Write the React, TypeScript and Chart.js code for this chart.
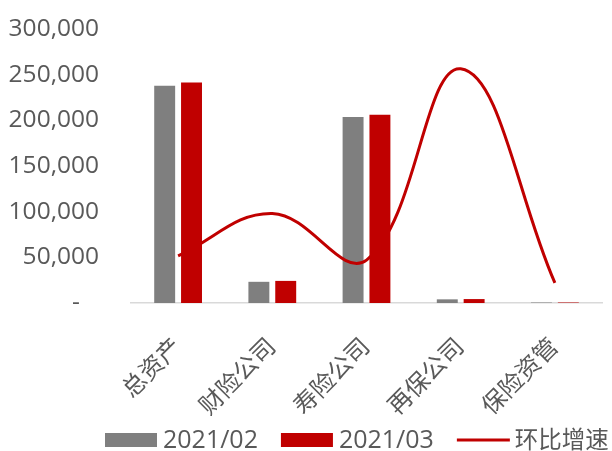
import React, { useEffect, useRef } from "react";
import { Chart, registerables } from "chart.js";

Chart.register(...registerables);

const categories = ["总资产", "财险公司", "寿险公司", "再保公司", "保险资管"];
const series0221 = [238000, 23200, 203600, 4000, 500];
const series0321 = [241300, 24200, 206200, 4300, 520];
const growthPct = [1.03, 1.96, 0.94, 5.13, 0.44];
const yTicks = [0, 50000, 100000, 150000, 200000, 250000, 300000];

const FONT = '"Open Sans", "Noto Sans CJK SC", sans-serif';
const TEXT = "#595959";

const legendPlugin = {
  id: "customLegend",
  afterDraw(chart: any) {
    const ctx = chart.ctx;
    ctx.save();
    ctx.textBaseline = "middle";
    ctx.textAlign = "left";
    const cy = 440;
    let x = 105;
    chart.data.datasets.forEach((ds: any) => {
      if (ds.type === "line") {
        ctx.strokeStyle = ds.borderColor;
        ctx.lineWidth = 3;
        ctx.beginPath();
        ctx.moveTo(x, cy);
        ctx.lineTo(x + 53, cy);
        ctx.stroke();
        x += 58;
        ctx.font = `23.5px ${FONT}`;
      } else {
        ctx.fillStyle = ds.backgroundColor;
        ctx.fillRect(x, cy - 7, 52, 14);
        x += 58;
        ctx.font = `25px ${FONT}`;
      }
      ctx.fillStyle = TEXT;
      ctx.fillText(ds.label, x, cy + 1);
      x += ctx.measureText(ds.label).width + 23;
    });
    ctx.restore();
  },
};

export default function App() {
  const ref = useRef<HTMLCanvasElement | null>(null);
  useEffect(() => {
    document.body.style.margin = "0";
    const ctx = ref.current!;
    const chart = new Chart(ctx, {
      type: "bar",
      data: {
        labels: categories,
        datasets: [
          {
            label: "2021/02",
            data: series0221,
            backgroundColor: "#7F7F7F",
            borderWidth: 0,
            categoryPercentage: 0.57,
            barPercentage: 0.78,
            order: 1,
          },
          {
            label: "2021/03",
            data: series0321,
            backgroundColor: "#C00000",
            borderWidth: 0,
            categoryPercentage: 0.57,
            barPercentage: 0.78,
            order: 2,
          },
          {
            type: "line",
            label: "环比增速",
            data: growthPct,
            yAxisID: "y1",
            borderColor: "#C00000",
            backgroundColor: "#C00000",
            borderWidth: 3,
            pointRadius: 0,
            tension: 0.4,
            order: 0,
          } as any,
        ],
      },
      plugins: [legendPlugin],
      options: {
        animation: false,
        responsive: false,
        maintainAspectRatio: false,
        layout: { padding: { top: 29, right: 10, left: 0, bottom: 0 } },
        plugins: {
          tooltip: { enabled: false },
          legend: { display: false },
        },
        scales: {
          x: {
            grid: { display: false, drawTicks: false },
            border: { display: true, color: "#D9D9D9", width: 1.5 },
            afterFit: (s: any) => {
              s.height = 148;
            },
            ticks: {
              font: { family: FONT, size: 24 },
              color: TEXT,
              maxRotation: 45,
              minRotation: 45,
              padding: 30,
              autoSkip: false,
            },
          },
          y: {
            min: 0,
            max: 300000,
            afterFit: (s: any) => {
              s.width = 131;
              s.paddingTop = 0;
              s.paddingBottom = 0;
            },
            afterBuildTicks: (s: any) => {
              s.ticks = yTicks.map((v) => ({ value: v }));
            },
            grid: { display: false, drawTicks: false },
            border: { display: false },
            ticks: {
              font: { family: FONT, size: 24.5 },
              color: TEXT,
              padding: 32,
              callback: (v: any) => (Number(v) === 0 ? "-   " : Number(v).toLocaleString("en-US")),
            },
          },
          y1: {
            display: false,
            min: 0,
            max: 6,
          },
        },
      },
    });
    return () => chart.destroy();
  }, []);
  return (
    <div style={{ width: 612, height: 451, background: "#fff" }}>
      <canvas ref={ref} width={612} height={451} style={{ display: "block" }} />
    </div>
  );
}
